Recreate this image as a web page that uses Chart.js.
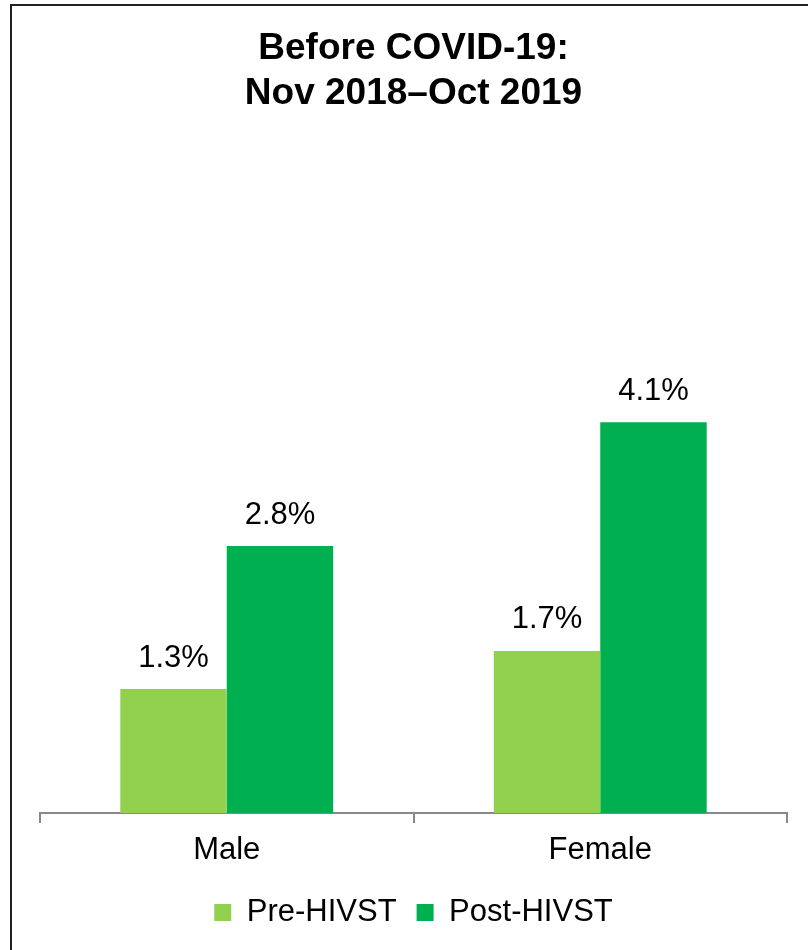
<!DOCTYPE html>
<html>
<head>
<meta charset="utf-8">
<title>Before COVID-19: HIV testing</title>
<script src="https://cdn.jsdelivr.net/npm/chart.js@4"></script>
<style>
    body { margin: 0; background: #fff; overflow: hidden; }
    #wrap { position: relative; width: 808px; height: 950px; }
    #frame {
        position: absolute; left: 10px; top: 4px; width: 900px; height: 1000px;
        border-left: 2px solid #222; border-top: 2px solid #222;
        pointer-events: none;
    }
    canvas { position: absolute; left: 0; top: 0; }
</style>
</head>
<body>
<div id="wrap">
    <canvas id="chart" width="808" height="950"></canvas>
    <div id="frame"></div>
</div>
<script>
// Data
const categories = ["Male", "Female"];
const preHivst = [1.3, 1.7];   // Pre-HIVST (%)
const postHivst = [2.8, 4.1];  // Post-HIVST (%)
const seriesNames = ["Pre-HIVST", "Post-HIVST"];
const titleLines = ["Before COVID-19:", "Nov 2018\u2013Oct 2019"];

const FONT = "'Liberation Sans', Arial, Helvetica, sans-serif";

// Draw the value labels above each bar
const valueLabels = {
    id: "valueLabels",
    afterDatasetsDraw(chart) {
        const ctx = chart.ctx;
        ctx.save();
        ctx.font = "31px " + FONT;
        ctx.fillStyle = "#000";
        ctx.textAlign = "center";
        ctx.textBaseline = "middle";
        chart.data.datasets.forEach((ds, i) => {
            chart.getDatasetMeta(i).data.forEach((bar, j) => {
                ctx.fillText(ds.data[j].toFixed(1) + "%", bar.x, bar.y - 31);
            });
        });
        ctx.restore();
    }
};

const ctx = document.getElementById("chart").getContext("2d");
new Chart(ctx, {
    type: "bar",
    data: {
        labels: categories,
        datasets: [
            { label: seriesNames[0], data: preHivst, backgroundColor: "#92D050" },
            { label: seriesNames[1], data: postHivst, backgroundColor: "#00B050" }
        ]
    },
    options: {
        responsive: false,
        animation: false,
        categoryPercentage: 0.57,
        barPercentage: 1.0,
        layout: { padding: { left: 40, right: 21, top: 0, bottom: 12 } },
        plugins: {
            tooltip: { enabled: false },
            title: {
                display: true,
                text: titleLines,
                color: "#000",
                font: { family: FONT, size: 37, weight: "bold", lineHeight: "45px" },
                padding: { top: 26, bottom: 125 }
            },
            legend: {
                position: "bottom",
                labels: {
                    color: "#000",
                    font: { family: FONT, size: 31 },
                    boxWidth: 17,
                    boxHeight: 17,
                    padding: 20
                }
            }
        },
        scales: {
            x: {
                border: { display: true, color: "#898989", width: 2 },
                grid: {
                    display: true,
                    drawOnChartArea: false,
                    drawTicks: true,
                    tickLength: 10,
                    color: "#898989",
                    lineWidth: 2
                },
                ticks: {
                    color: "#000",
                    padding: 17.5,
                    font: { family: FONT, size: 31, lineHeight: "19px" }
                }
            },
            y: {
                display: false,
                min: 0,
                max: 6
            }
        }
    },
    plugins: [valueLabels]
});
</script>
</body>
</html>
